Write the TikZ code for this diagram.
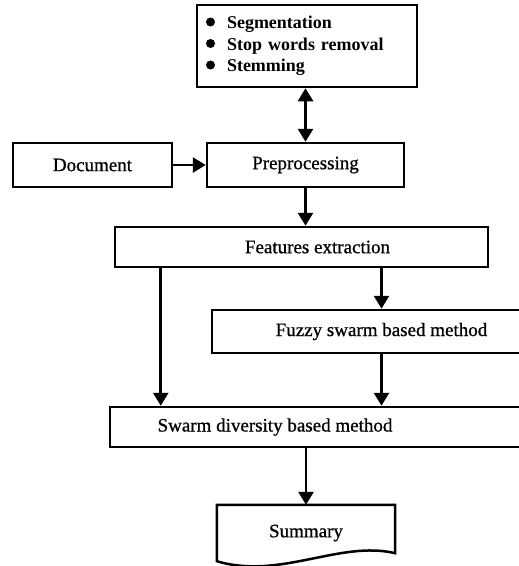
\documentclass[tikz,border=0pt]{standalone}
\usepackage{fontspec}
\setmainfont{Liberation Serif}
\newfontfamily\thickrm{Liberation Serif}[FakeBold=0.8]
\usetikzlibrary{arrows.meta}
\tikzset{
  box/.style={draw, line width=2.5pt, rectangle, inner sep=0pt, font=\thickrm\fontsize{19}{22}\selectfont},
  arr/.style={line width=2.8pt, -{Triangle[length=13pt,width=15pt]}},
  darr/.style={line width=2.8pt, {Triangle[length=13pt,width=15pt]}-{Triangle[length=13pt,width=15pt]}},
  bul/.style={fill, circle, inner sep=0pt, minimum size=9pt},
  docshape/.style={line width=2.5pt}
}
\begin{document}
\begin{tikzpicture}[x=1pt,y=-1pt]
\useasboundingbox (0,0) rectangle (519,566);
% top list box
\node[box, minimum width=220pt, minimum height=82pt, text width=160pt, align=left,
      font=\fontsize{18}{21.5}\selectfont\bfseries] (top) at (307,46)
  {Segmentation\\Stop words removal\\Stemming};
\node[bul] (b1) at (210.5,22) {};
\node[bul] (b2) at (210.5,43.5) {};
\node[bul] (b3) at (210.5,65) {};
% main boxes
\node[box, minimum width=159pt, minimum height=44pt] (doc) at (92.5,165) {Document};
\node[box, minimum width=197pt, minimum height=44pt] (pre) at (305.5,165) {Preprocessing};
\node[box, minimum width=373pt, minimum height=40pt] (feat) at (301.5,247) {\hspace*{32pt}Features extraction};
\node[box, minimum width=339pt, minimum height=43pt] (fuzzy) at (381.5,331.5) {Fuzzy swarm based method};
\node[box, minimum width=435pt, minimum height=40pt] (swarm) at (327.5,427) {\hspace*{-105pt}Swarm diversity based method};
% summary (document shape)
\node[minimum width=178pt, minimum height=56pt, inner sep=0pt, font=\thickrm\fontsize{19}{22}\selectfont] (sum) at (306,533) {Summary};
\draw[docshape] (sum.north west) -- (sum.north east) -- ([yshift=8pt]sum.south east)
  .. controls (340,540) and (280,580) .. (sum.south west) -- cycle;
% connectors
\draw[darr] (top.south -| pre.north) -- (pre.north);
\draw[arr] (doc) -- (pre);
\draw[arr] (pre.south) -- (pre.south |- feat.north);
\draw[arr] (fuzzy.north |- feat.south) -- (fuzzy.north);
\draw[arr] (fuzzy.south) -- (fuzzy.south |- swarm.north);
\coordinate (fl) at ([xshift=47pt]feat.south west);
\draw[arr] (fl) -- (fl |- swarm.north);
\draw[arr] (sum.north |- swarm.south) -- (sum.north);
\end{tikzpicture}
\end{document}
